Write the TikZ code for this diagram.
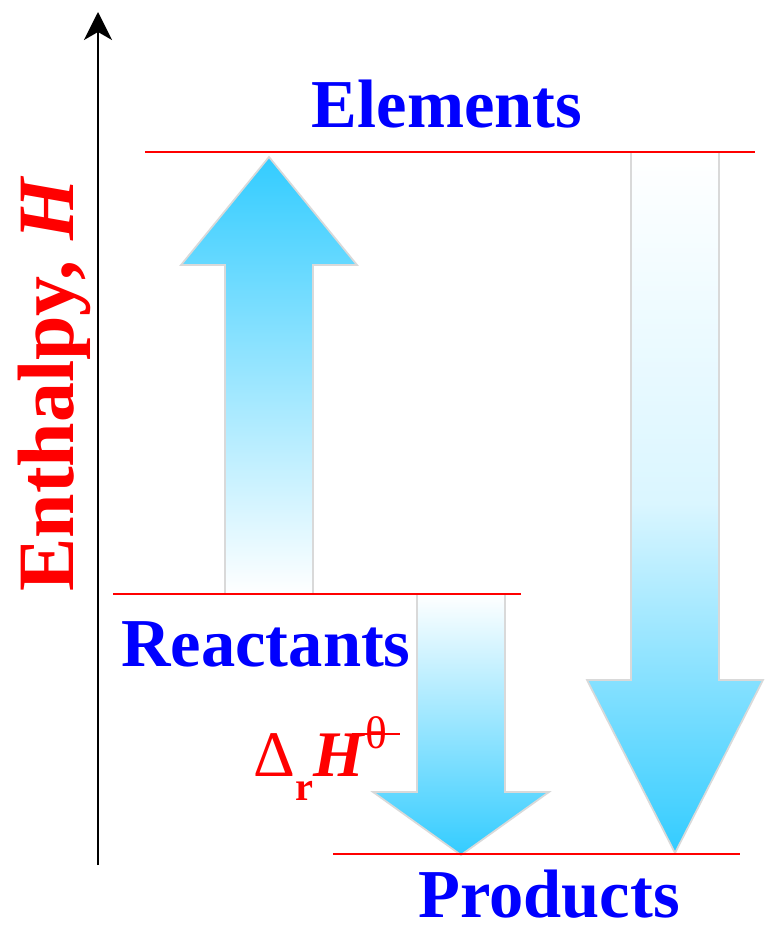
\documentclass[tikz,border=0pt]{standalone}
\usepackage{fontspec}
\setmainfont{Liberation Serif}
\usepackage{xcolor}
\usepackage{tikz}
\usetikzlibrary{arrows.meta,positioning,calc}

\definecolor{arrowcyan}{RGB}{51,204,255}
\definecolor{edgegray}{RGB}{217,217,217}
\newcommand{\stdstate}{\ooalign{θ\cr\hidewidth\rule[0.3em]{1.05em}{0.05em}\hidewidth\cr}}

\begin{document}
\begin{tikzpicture}[x=0.02cm,y=-0.02cm,
    level/.style={draw=red, line width=1.1pt},
    blockup/.style={draw=edgegray, line width=1pt, top color=arrowcyan, middle color=arrowcyan!35, bottom color=white},
    blockdown/.style={draw=edgegray, line width=1pt, top color=white, middle color=arrowcyan!30, bottom color=arrowcyan},
    levellabel/.style={text=blue, font=\fontsize{39}{39}\selectfont\bfseries, inner sep=0pt}]
\useasboundingbox (0,0) rectangle (764,926);

% enthalpy axis
\coordinate (axisbot) at (98,865);
\coordinate (axistop) at (98,12);
\draw[line width=1.1pt, -{Stealth[length=0.56cm, width=0.56cm, inset=0.16cm]}] (axisbot) -- (axistop);
\node[rotate=90, anchor=base, inner sep=0pt, text=red, font=\fontsize{45.5}{45.5}\selectfont\bfseries]
    (ylabel) at (73,384) {Enthalpy, \textit{H}};

% block arrows
\path[blockup] (225,594) -- (225,265) -- (181,265) -- (269,157) -- (357,265) -- (313,265) -- (313,594) -- cycle;
\path[blockdown] (417,594) -- (417,792) -- (373,792) -- (461,855) -- (549,792) -- (505,792) -- (505,594) -- cycle;
\path[blockdown, middle color=arrowcyan!18] (631,152) -- (631,680) -- (587,680) -- (675,853) -- (763,680) -- (719,680) -- (719,152) -- cycle;

% levels
\coordinate (elemL) at (145,152);
\coordinate (elemR) at (755,152);
\coordinate (reacL) at (113,594);
\coordinate (reacR) at (521,594);
\coordinate (prodL) at (333,854);
\coordinate (prodR) at (740,854);
\draw[level] (elemL) -- (elemR);
\draw[level] (reacL) -- (reacR);
\draw[level] (prodL) -- (prodR);

\node[levellabel, anchor=base] (elements) at (447,128) {Elements};
\node[levellabel, anchor=base] (reactants) at (266,666) {Reactants};
\node[levellabel, anchor=base] (products) at (549,917) {Products};

\node[anchor=base west, inner sep=0pt, text=red, font=\fontsize{37}{37}\selectfont] (dH) at (253,776)
    {Δ\raisebox{-0.38em}{\fontsize{23}{23}\selectfont\bfseries r}\textbf{\textit{H}}\raisebox{0.42em}{\fontsize{26}{26}\selectfont\stdstate}};
\end{tikzpicture}
\end{document}
